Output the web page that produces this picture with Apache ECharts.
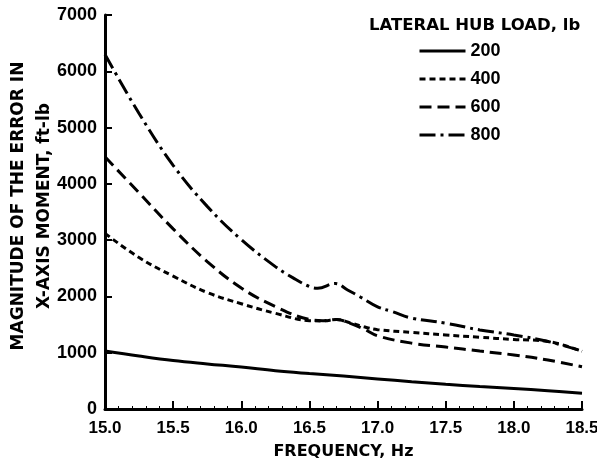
<!DOCTYPE html>
<html>
<head>
<meta charset="utf-8">
<script src="https://cdn.jsdelivr.net/npm/echarts@6/dist/echarts.min.js"></script>
<style>
  html, body { margin: 0; padding: 0; background: #fff; }
  #chart { width: 597px; height: 458px; }
</style>
</head>
<body>
<div id="chart"></div>
<script>
  // frequency (Hz) and error magnitude (ft-lb), one pair of arrays per hub load
  var freq200 = [15.0, 15.25, 15.5, 15.75, 16.0, 16.25, 16.5, 16.75, 17.0, 17.25, 17.5, 17.75, 18.0, 18.25, 18.5]
  var load200 = [1030, 940, 860, 800, 745, 680, 630, 585, 535, 485, 440, 400, 365, 325, 280]

  var freq400 = [15.0, 15.25, 15.5, 15.75, 16.0, 16.25, 16.5, 16.6, 16.7, 16.8, 16.9, 17.0, 17.25, 17.5, 17.75, 18.0, 18.25, 18.5]
  var load400 = [3120, 2690, 2360, 2070, 1870, 1700, 1570, 1565, 1590, 1530, 1460, 1410, 1360, 1315, 1275, 1235, 1200, 1025]

  var freq600 = [15.0, 15.25, 15.5, 15.75, 16.0, 16.25, 16.5, 16.6, 16.7, 16.8, 16.9, 17.0, 17.25, 17.5, 17.75, 18.0, 18.25, 18.5]
  var load600 = [4480, 3840, 3200, 2620, 2150, 1820, 1590, 1570, 1590, 1520, 1420, 1300, 1170, 1100, 1030, 960, 870, 750]

  var freq800 = [15.0, 15.25, 15.5, 15.75, 16.0, 16.25, 16.38, 16.5, 16.56, 16.69, 16.78, 16.87, 17.0, 17.11, 17.25, 17.5, 17.75, 18.0, 18.25, 18.5]
  var load800 = [6300, 5250, 4330, 3600, 3010, 2530, 2330, 2175, 2145, 2230, 2115, 1995, 1815, 1730, 1615, 1525, 1405, 1315, 1200, 1030]

  var loadNames = ['200', '400', '600', '800']

  function pairs(xs, ys) {
    return xs.map(function (x, i) { return [x, ys[i]] })
  }

  var numFont = "'Liberation Sans', Arial, sans-serif"
  var wordFont = "'DejaVu Sans', sans-serif"

  var chart = echarts.init(document.getElementById('chart'))

  function lineSeries(name, xs, ys, dash) {
    return {
      name: name,
      type: 'line',
      smooth: 0.4,
      symbol: 'none',
      color: '#000',
      data: pairs(xs, ys),
      lineStyle: { color: '#000', width: 3, type: dash }
    }
  }

  chart.setOption({
    backgroundColor: '#fff',
    animation: false,
    title: {
      text: 'LATERAL HUB LOAD, lb',
      left: 364,
      top: 12,
      textStyle: { fontFamily: wordFont, fontWeight: 'bold', fontSize: 16.5, color: '#000' }
    },
    legend: {
      orient: 'vertical',
      left: 413,
      top: 37,
      itemWidth: 46,
      itemHeight: 14,
      itemGap: 10,
      data: loadNames,
      itemStyle: { opacity: 0 },
      lineStyle: { width: 3 },
      textStyle: { fontFamily: numFont, fontWeight: 'bold', fontSize: 18, color: '#000' }
    },
    grid: { left: 105, right: 15, top: 15, bottom: 49, outerBoundsMode: 'none', containLabel: false },
    xAxis: {
      type: 'value',
      min: 15,
      max: 18.5,
      interval: 0.5,
      name: 'FREQUENCY, Hz',
      nameLocation: 'middle',
      nameGap: 35,
      nameTextStyle: { fontFamily: wordFont, fontWeight: 'bold', fontSize: 16, color: '#000' },
      axisLine: { lineStyle: { color: '#000', width: 3 } },
      axisTick: { inside: true, length: 8, lineStyle: { color: '#000', width: 2 } },
      minorTick: { show: true, splitNumber: 5, length: 3, lineStyle: { color: '#000', width: 1 } },
      splitLine: { show: false },
      axisLabel: {
        margin: 11,
        fontFamily: numFont,
        fontWeight: 'bold',
        fontSize: 17,
        color: '#000',
        formatter: function (v) { return v.toFixed(1) }
      }
    },
    yAxis: {
      type: 'value',
      min: 0,
      max: 7000,
      interval: 1000,
      name: 'MAGNITUDE OF THE ERROR IN\nX-AXIS MOMENT, ft-lb',
      nameLocation: 'middle',
      nameRotate: 90,
      nameGap: 47,
      nameMoveOverlap: false,
      nameTextStyle: {
        fontFamily: wordFont, fontWeight: 'bold', fontSize: 17, lineHeight: 26,
        color: '#000', padding: [0, 0, 0, 12]
      },
      axisLine: { show: true, lineStyle: { color: '#000', width: 3 } },
      axisTick: { show: true, inside: true, length: 7, lineStyle: { color: '#000', width: 2 } },
      splitLine: { show: false },
      axisLabel: {
        margin: 8,
        fontFamily: numFont,
        fontWeight: 'bold',
        fontSize: 18,
        color: '#000',
        formatter: function (v) { return String(v) }
      }
    },
    series: [
      lineSeries('200', freq200, load200, 'solid'),
      lineSeries('400', freq400, load400, [6, 4]),
      lineSeries('600', freq600, load600, [12, 6]),
      lineSeries('800', freq800, load800, [16, 5, 3, 5])
    ]
  })
</script>
</body>
</html>
